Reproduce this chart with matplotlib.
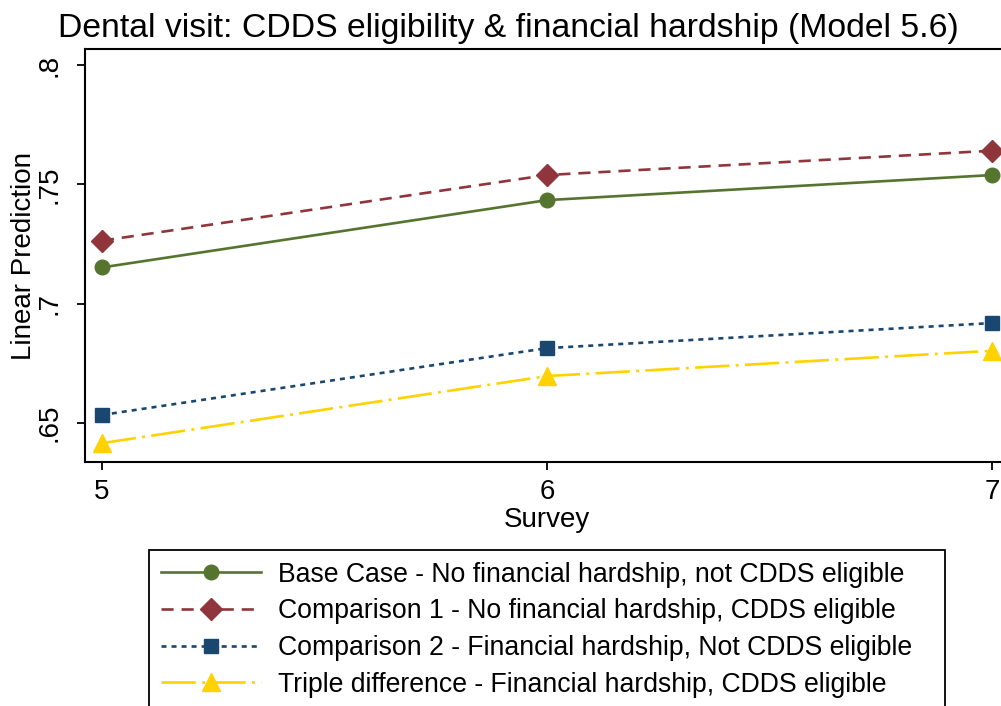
import numpy as np
import matplotlib
matplotlib.use('Agg')
import matplotlib.pyplot as plt

plt.rcParams['font.family'] = ['Liberation Sans', 'DejaVu Sans']

# Predicted probability of a dental visit by survey wave
survey = [5, 6, 7]
base_case = [0.7152, 0.7434, 0.7539]
comparison1 = [0.7264, 0.7539, 0.7641]
comparison2 = [0.6534, 0.6814, 0.6919]
triple_diff = [0.6416, 0.6697, 0.6803]

labels = ['Base Case - No financial hardship, not CDDS eligible',
          'Comparison 1 - No financial hardship, CDDS eligible',
          'Comparison 2 - Financial hardship, Not CDDS eligible',
          'Triple difference - Financial hardship, CDDS eligible']

y_ticks = [0.65, 0.7, 0.75, 0.8]
y_ticklabels = ['.65', '.7', '.75', '.8']

fig = plt.figure(figsize=(10.01, 7.06), dpi=100)
# axes run off the right edge on purpose (the right border is cropped)
ax = fig.add_axes([85/1001, 244/706, 924/1001, 413/706])

lw = 1.9
ax.plot(survey, base_case, color='#55752F', lw=lw, ls='-',
        marker='o', ms=10.5, label=labels[0])
ax.plot(survey, comparison1, color='#90353B', lw=lw, ls=(0, (4.6, 3.0)),
        marker='D', ms=11, label=labels[1])
ax.plot(survey, comparison2, color='#1A476F', lw=lw, ls=(0, (1.9, 1.9)),
        marker='s', ms=10.5, label=labels[2])
ax.plot(survey, triple_diff, color='#FFD200', lw=lw, ls=(0, (13, 2.4, 1.1, 2.4)),
        marker='^', ms=12.5, label=labels[3])

ax.set_xlim(4.962, 7.038)
ax.set_ylim(0.6337, 0.8067)
ax.set_xticks(survey)
ax.set_yticks(y_ticks)
ax.set_yticklabels(y_ticklabels, rotation=90, va='center')
ax.tick_params(axis='both', labelsize=20, length=6, width=1.3, color='black')
ax.tick_params(axis='y', pad=10)
ax.tick_params(axis='x', pad=6)
for s in ax.spines.values():
    s.set_linewidth(1.5)
    s.set_color('black')

ax.set_xlabel('Survey', fontsize=20)
ax.xaxis.set_label_coords(0.5, -0.11)
ax.set_ylabel('Linear Prediction', fontsize=20)
ax.yaxis.set_label_coords(-0.052, 0.5)

fig.text(508/1001, 1 - 37/706, 'Dental visit: CDDS eligibility & financial hardship (Model 5.6)',
         fontsize=24.3, ha='center', va='baseline')

leg = fig.legend(loc='upper left', bbox_to_anchor=(149/1001, 0.0, 796/1001, 1 - 550/706),
                 mode='expand', borderaxespad=0, fontsize=19.2, numpoints=1,
                 handlelength=3.75, handletextpad=0.64, labelspacing=0.40,
                 borderpad=0.44, fancybox=False, framealpha=1, edgecolor='black')
leg.get_frame().set_linewidth(1.3)

fig.savefig('out.png', dpi=100)
